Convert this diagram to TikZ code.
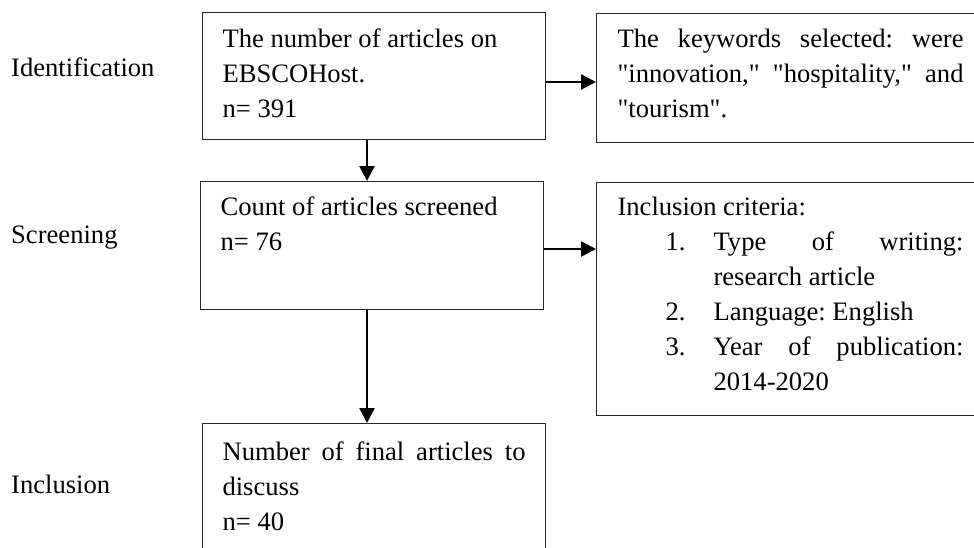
\documentclass[tikz,border=0pt]{standalone}
\usepackage{fontspec}
\setmainfont{Liberation Serif}[Ligatures=TeXOff]
\usetikzlibrary{arrows.meta}
\frenchspacing
\newcommand\critem[2]{\par\hangindent=96pt\hangafter=1
  \hspace*{48pt}\makebox[48pt][l]{#1}#2\par}
\begin{document}
\begin{tikzpicture}[x=1pt,y=-1pt,
  txt/.style={font=\fontsize{26.6}{35}\selectfont\frenchspacing},
  box/.style={txt, draw=black!85, line width=1.1pt, anchor=north west,
    inner xsep=20pt, inner ysep=0pt, align=justify},
  lbl/.style={txt, anchor=base west, inner sep=0pt},
  arr/.style={line width=2.4pt, -{Triangle[length=15pt,width=15pt]}}]
\useasboundingbox (0,0) rectangle (974,547);
\fill[white] (0,0) rectangle (974,547);
\clip (0,0) rectangle (974,547);

% stage labels
\node[lbl] (lid) at (11,76) {Identification};
\node[lbl] (lsc) at (11,243) {Screening};
\node[lbl] (lin) at (11,493) {Inclusion};

% boxes
\node[box, text width=303pt, text height=34.7pt, text depth=92.3pt] (b1) at (202,12)
  {The number of articles on\newline EBSCOHost.\newline n= 391};
\node[box, inner xsep=21pt, text width=346pt, text height=33.7pt, text depth=95pt] (b2) at (596,13)
  {The keywords selected: were\linebreak "innovation," "hospitality," and\linebreak "tourism".};
\node[box, text width=303pt, text height=34pt, text depth=94pt] (b3) at (200,181)
  {Count of articles screened\newline n= 76};
\node[box, inner xsep=21pt, text width=346pt, text height=33.5pt, text depth=200pt] (b4) at (596,181.5)
  {Inclusion criteria:
   \critem{1.}{Type of writing:\linebreak research article}
   \critem{2.}{Language: English}
   \critem{3.}{Year of publication:\linebreak 2014-2020}};
\node[box, text width=303pt, text height=37pt, text depth=150pt] (b5) at (202,423)
  {Number of final articles to\linebreak discuss\newline n= 40};

% connectors
\coordinate (h1) at (570,82);
\coordinate (h2) at (570,249);
\coordinate (v1) at (367,160);
\draw[arr] (b1.east |- h1) -- (b2.west |- h1);
\draw[arr] (b1.south -| v1) -- (b3.north -| v1);
\draw[arr] (b3.east |- h2) -- (b4.west |- h2);
\draw[arr] (b3.south -| v1) -- (b5.north -| v1);
\end{tikzpicture}
\end{document}
